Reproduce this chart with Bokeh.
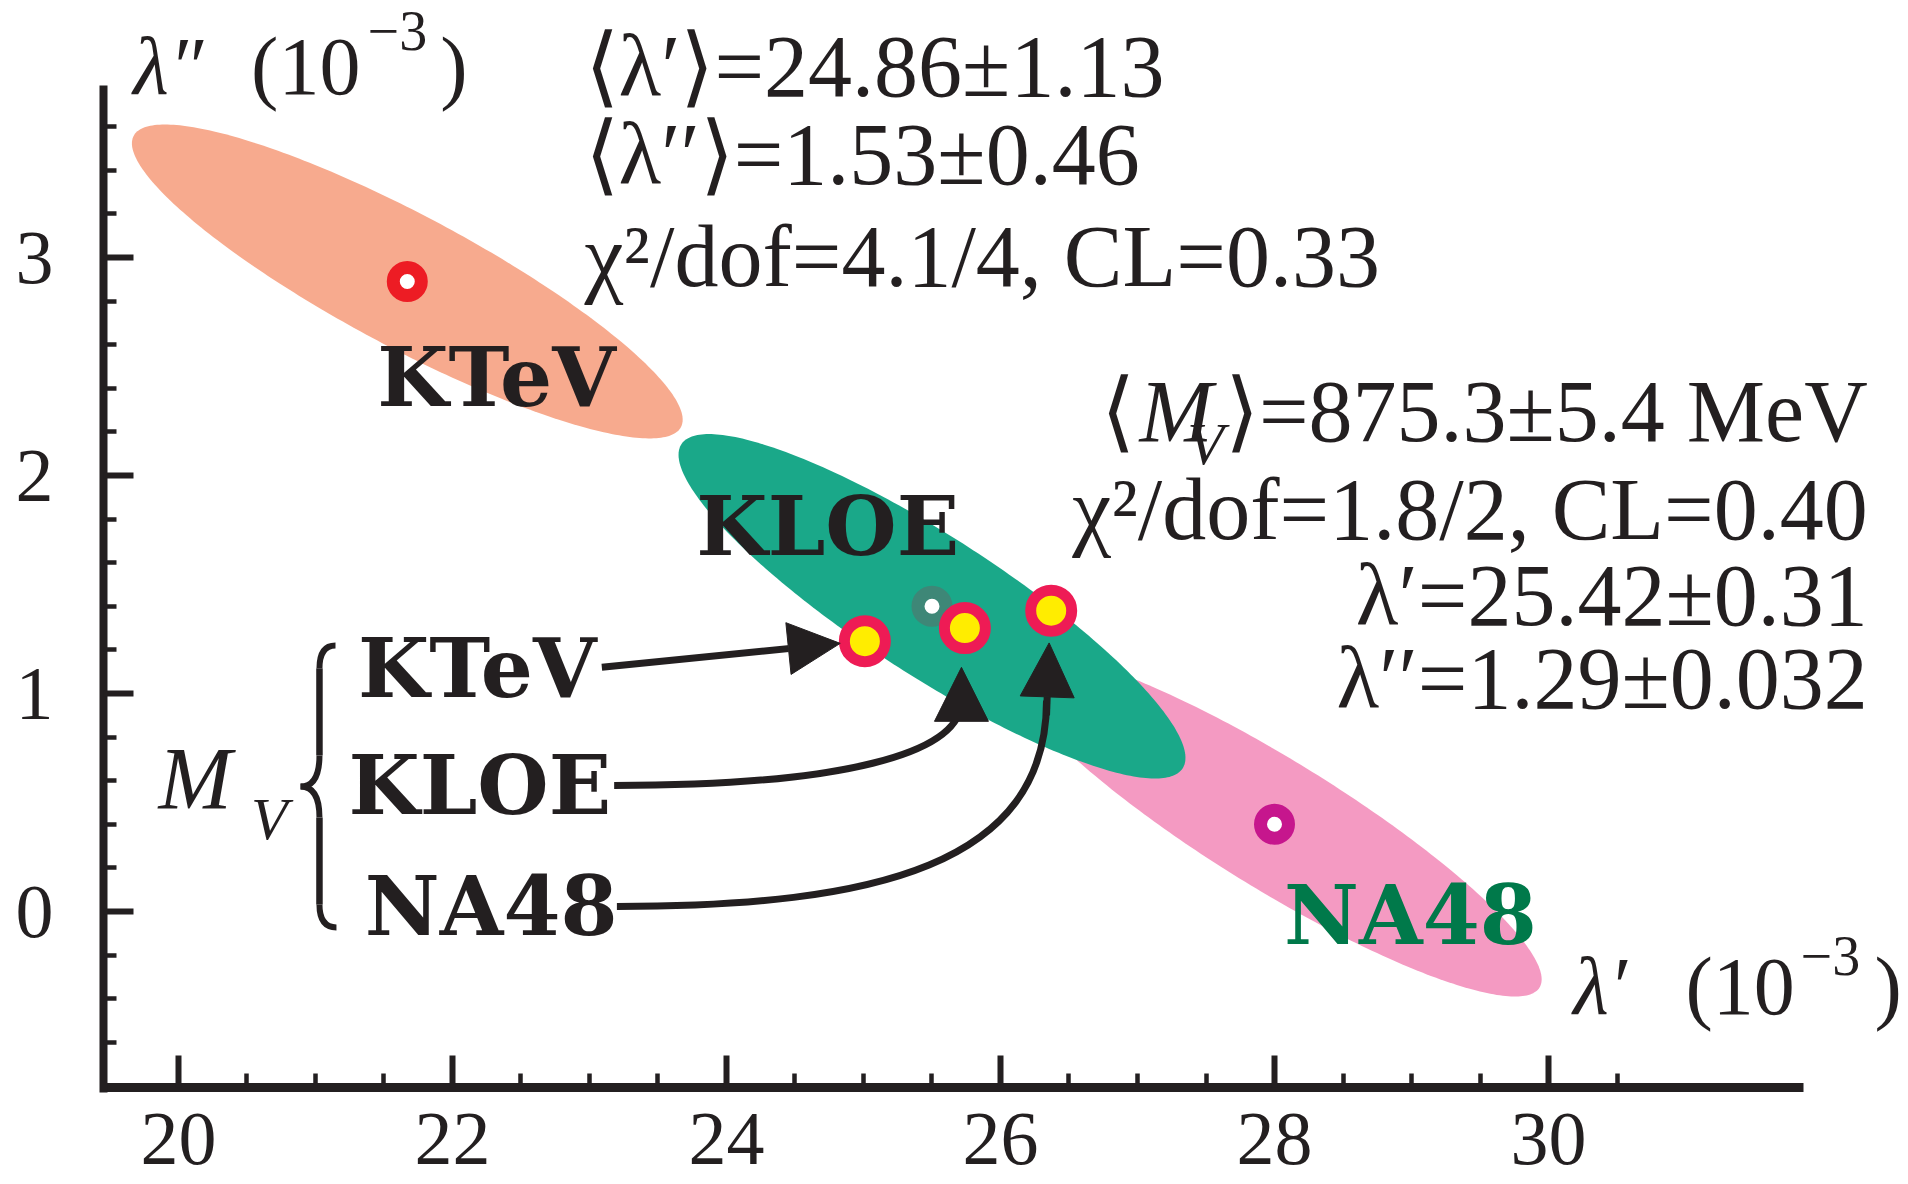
import numpy as np
from bokeh.plotting import figure
from bokeh.models import Range1d, FixedTicker, Label, Arrow, NormalHead
from bokeh.embed import file_html
from bokeh.resources import INLINE

# ---------------- data ----------------
experiments = ["KTeV", "KLOE", "NA48"]
lam1 = [21.67, 25.5, 28.0]          # lambda'  (1e-3)
lam2 = [2.89, 1.40, 0.40]           # lambda'' (1e-3)
sig_lam1 = [2.01, 1.85, 1.95]
sig_lam2 = [0.72, 0.79, 0.79]
rho = [-0.88, -0.88, -0.90]

fit_lam1 = [25.01, 25.74, 26.37]    # M_V fit points (KTeV, KLOE, NA48)
fit_lam2 = [1.24, 1.30, 1.38]

x_major_ticks = [20, 22, 24, 26, 28, 30]
x_minor_ticks = [20.5, 21, 21.5, 22.5, 23, 23.5, 24.5, 25, 25.5, 26.5, 27, 27.5,
                 28.5, 29, 29.5, 30.5]
y_major_ticks = [0, 1, 2, 3]
y_minor_ticks = [-0.6, -0.4, -0.2, 0.2, 0.4, 0.6, 0.8, 1.2, 1.4, 1.6, 1.8,
                 2.2, 2.4, 2.6, 2.8, 3.2, 3.4, 3.6]
x_axis_extent = (19.4526, 31.862)
y_axis_extent = (-0.828, 3.789)
x_axis_at = -0.807

# ---------------- style ----------------
INK = "#231F20"
SERIF = "Liberation Serif"
BOLD = "DejaVu Serif"
ell_colors = ["#F7AA8E", "#1AA889", "#F49AC2"]
ring_colors = ["#ED1C24", "#3E8777", "#C6168D"]
PX_PER_Y = 218.0      # vertical pixels per unit of lambda''

p = figure(width=1908, height=1184,
           x_range=Range1d(19.4526, 32.6277), y_range=Range1d(-1.25229, 4.17890),
           min_border_left=103, min_border_right=0, min_border_top=0,
           min_border_bottom=0, output_backend="svg", toolbar_location=None)
p.outline_line_color = None
p.xgrid.visible = False
p.ygrid.visible = False
p.background_fill_color = "white"
p.border_fill_color = "white"

for ax, maj, mino, tin, mtin, lw in ((p.xaxis[0], x_major_ticks, x_minor_ticks, 32, 14, 9),
                                     (p.yaxis[0], y_major_ticks, y_minor_ticks, 30, 13, 8)):
    ax.ticker = FixedTicker(ticks=maj, minor_ticks=mino)
    ax.axis_line_color = INK
    ax.axis_line_width = lw
    ax.major_tick_line_color = INK
    ax.minor_tick_line_color = INK
    ax.major_tick_line_width = 6
    ax.minor_tick_line_width = 4.5
    ax.major_tick_in = tin
    ax.major_tick_out = 0
    ax.minor_tick_in = mtin
    ax.minor_tick_out = 0
    ax.major_label_text_font = SERIF
    ax.major_label_text_font_size = "76px"
    ax.major_label_text_color = INK

p.xaxis[0].bounds = x_axis_extent
p.xaxis[0].fixed_location = x_axis_at
p.xaxis[0].major_label_standoff = 27
p.yaxis[0].bounds = y_axis_extent
p.yaxis[0].major_label_standoff = 50

# ---------------- ellipses ----------------
t = np.linspace(0, 2 * np.pi, 300)
for i in (0, 2, 1):
    ex = lam1[i] + sig_lam1[i] * np.cos(t)
    ey = lam2[i] + sig_lam2[i] * (rho[i] * np.cos(t) + np.sqrt(1 - rho[i] ** 2) * np.sin(t))
    p.patch(ex, ey, fill_color=ell_colors[i], line_color=None)

# central values of the experiments
p.scatter(lam1, lam2, marker="circle", size=28, fill_color="white",
          line_color=ring_colors, line_width=13)

# ---------------- arrows ----------------
arrow_start_x = [23.09, 23.18, 23.20]
arrow_start_y = [1.12, 0.578, 0.023]
# KTeV: straight arrow
p.add_layout(Arrow(end=NormalHead(size=52, fill_color=INK, line_color=INK, line_width=1),
                   x_start=arrow_start_x[0], y_start=arrow_start_y[0],
                   x_end=24.83, y_end=1.23, line_color=INK, line_width=7))
# KLOE and NA48: curved arrows
p.bezier(x0=arrow_start_x[1:], y0=arrow_start_y[1:],
         x1=[25.715, 26.336], y1=[0.968, 0.968],
         cx0=[24.83, 25.095], cy0=[0.578, 0.023],
         cx1=[25.715, 26.336], cy1=[0.720, 0.216],
         line_color=INK, line_width=7)
for x0, y0, x1, y1 in ((25.715, 0.90, 25.715, 1.12), (26.336, 0.90, 26.355, 1.232)):
    p.add_layout(Arrow(end=NormalHead(size=54, fill_color=INK, line_color=INK, line_width=1),
                       x_start=x0, y_start=y0, x_end=x1, y_end=y1,
                       line_color=INK, line_width=7))

# fit points (on top of arrows)
p.scatter(fit_lam1, fit_lam2, marker="circle", size=41, fill_color="#FFED00",
          line_color="#EE1B55", line_width=11)

# ---------------- curly brace ----------------
p.quadratic(x0=[21.146, 21.029, 20.891, 21.029], y0=[1.220, 0.716, 0.573, 0.032],
            x1=[21.029, 20.891, 21.029, 21.153], y1=[1.115, 0.573, 0.431, -0.073],
            cx=[21.029, 21.029, 21.029, 21.029], cy=[1.220, 0.573, 0.573, -0.073],
            line_color=INK, line_width=6)
p.segment(x0=[21.029, 21.029], y0=[1.115, 0.431], x1=[21.029, 21.029], y1=[0.716, 0.032],
          line_color=INK, line_width=6.5)


# ---------------- texts ----------------
def lab(text, x, y, size, align="left", style="normal", color=INK, font=SERIF):
    # y is the baseline; the renderer drops "alphabetic" text by about 0.35 em
    yb = y + 0.35 * size / PX_PER_Y
    p.add_layout(Label(x=x, y=yb, text=text, text_font=font, text_font_size=f"{size}px",
                       text_font_style=style, text_color=color, text_align=align,
                       text_baseline="alphabetic"))


# axis titles
lab("λ″", 19.67, 3.743, 82, style="italic")
lab("(10", 20.53, 3.743, 82)
lab("−3", 21.38, 3.95, 56)
lab(")", 21.91, 3.743, 82)

lab("λ′", 30.18, -0.477, 82, style="italic")
lab("(10", 31.0, -0.477, 82)
lab("−3", 31.84, -0.294, 56)
lab(")", 32.38, -0.477, 82)

# averages of the experiments
lab("⟨λ′⟩=24.86±1.13", 22.964, 3.734, 88)
lab("⟨λ′′⟩=1.53±0.46", 22.964, 3.330, 88)
lab("χ²/dof=4.1/4, CL=0.33", 22.964, 2.862, 88)

# M_V fit results
lab("⟩=875.3±5.4 MeV", 32.33, 2.151, 88, align="right")
lab("V", 27.63, 2.046, 60, align="right", style="italic")
lab("M", 27.55, 2.151, 88, align="right", style="italic")
lab("⟨", 26.98, 2.151, 88, align="right")
lab("χ²/dof=1.8/2, CL=0.40", 32.33, 1.702, 88, align="right")
lab("λ′=25.42±0.31", 32.33, 1.307, 88, align="right")
lab("λ′′=1.29±0.032", 32.33, 0.927, 88, align="right")

# experiment labels
lab(experiments[0], 21.45, 2.321, 82, style="bold", font=BOLD)
lab(experiments[1], 23.78, 1.638, 82, style="bold", font=BOLD)
lab(experiments[2], 28.07, -0.147, 82, style="bold", color="#00794A", font=BOLD)

lab("M", 19.854, 0.468, 88, style="italic")
lab("V", 20.53, 0.326, 60, style="italic")
lab(experiments[0], 21.31, 0.986, 82, style="bold", font=BOLD)
lab(experiments[1], 21.24, 0.450, 82, style="bold", font=BOLD)
lab(experiments[2], 21.36, -0.106, 82, style="bold", font=BOLD)

open("out.html", "w").write(file_html(p, INLINE))
